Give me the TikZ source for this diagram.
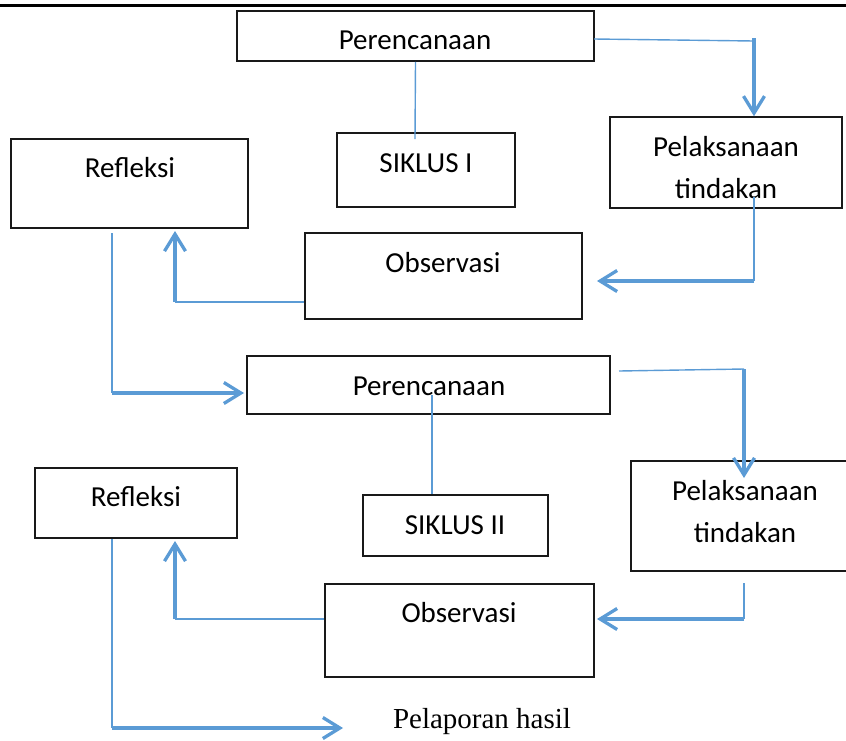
\documentclass[tikz,border=0pt]{standalone}
\usepackage{fontspec}
\setmainfont{Carlito}
\newfontfamily\timesfont{Liberation Serif}
\usetikzlibrary{arrows.meta}
\definecolor{oblue}{HTML}{5B9BD5}
\begin{document}
\begin{tikzpicture}[x=1pt,y=-1pt,
  box/.style={draw=black!90, line width=1.5pt, inner sep=0pt, fill=none},
  lbl/.style={inner sep=0pt, font=\fontsize{29}{42}\selectfont, align=center},
  thinline/.style={draw=oblue, line width=1.4pt},
  thickarrow/.style={draw=oblue, line width=3.3pt, -{Straight Barb[length=17pt,width=21pt]}}]
\useasboundingbox (0,0) rectangle (846,740);
\clip (0,0) rectangle (846,740);
% top rule
\coordinate (ruleL) at (0,5.5);
\coordinate (ruleR) at (846,5.5);
\draw[line width=3pt] (ruleL) -- (ruleR);
% ---------- cycle I ----------
\node[box, minimum width=357pt, minimum height=50pt] (per1) at (415.5,36) {};
\node[lbl] (per1t) at (415,40) {Perencanaan};
\node[box, minimum width=178pt, minimum height=74pt] (sik1) at (426,170) {};
\node[lbl] (sik1t) at (426,163) {SIKLUS I};
\node[box, minimum width=232pt, minimum height=91pt] (pel1) at (726,162.5) {};
\node[lbl] (pel1t) at (726,167.5) {Pelaksanaan\\tindakan};
\node[box, minimum width=237pt, minimum height=89pt] (ref1) at (129.5,183.5) {};
\node[lbl] (ref1t) at (130,168) {Refleksi};
\node[box, minimum width=277pt, minimum height=86pt] (obs1) at (443.5,276) {};
\node[lbl] (obs1t) at (443,263) {Observasi};
% ---------- cycle II ----------
\node[box, minimum width=363pt, minimum height=58pt] (per2) at (428.5,385) {};
\node[lbl] (per2t) at (429,386) {Perencanaan};
\node[box, minimum width=185pt, minimum height=61pt] (sik2) at (455.5,525.5) {};
\node[lbl] (sik2t) at (455,525) {SIKLUS II};
\node[box, minimum width=239pt, minimum height=110pt] (pel2) at (750.5,516) {};
\node[lbl] (pel2t) at (745,511.5) {Pelaksanaan\\tindakan};
\node[box, minimum width=202pt, minimum height=70pt] (ref2) at (136,503) {};
\node[lbl] (ref2t) at (136,497) {Refleksi};
\node[box, minimum width=269pt, minimum height=93pt] (obs2) at (459.5,630.5) {};
\node[lbl] (obs2t) at (459,613) {Observasi};
\node[inner sep=0pt, font=\timesfont\fontsize{29}{34}\selectfont] (lap) at (482,722) {Pelaporan hasil};
% ---------- connectors cycle I ----------
\coordinate (a1) at (415,139);
\draw[thinline] (per1.south) -- (a1);
\coordinate (b0) at (594,39);
\coordinate (b1) at (754,41);
\coordinate (b1t) at (754,38);
\draw[thinline] (b0) -- (b1);
\draw[thickarrow] (b1t) -- (b1t |- pel1.north);
\coordinate (c0) at (754,197);
\coordinate (c1) at (754,281);
\coordinate (c2) at (597,281);
\draw[thinline] (c0) -- (c1);
\draw[thickarrow] (c1) -- (c2);
\coordinate (d0) at (obs1.west |- 0,302);
\coordinate (d1) at (175,302);
\coordinate (d2) at (175,231);
\draw[thinline] (d0) -- (d1);
\draw[thickarrow] (d1) -- (d2);
\coordinate (e0) at (112,233);
\coordinate (e1) at (112,393);
\coordinate (e2) at (244,393);
\draw[thinline] (e0) -- (e1);
\draw[thickarrow] (e1) -- (e2);
% ---------- connectors cycle II ----------
\coordinate (f0) at (432,395);
\draw[thinline] (f0) -- (f0 |- sik2.north);
\coordinate (g0) at (619,371);
\coordinate (g1) at (744,369);
\coordinate (g2) at (744,478);
\draw[thinline] (g0) -- (g1);
\draw[thickarrow] (g1) -- (g2);
\coordinate (h0) at (744,583);
\coordinate (h1) at (744,619);
\coordinate (h2) at (597,619);
\draw[thinline] (h0) -- (h1);
\draw[thickarrow] (h1) -- (h2);
\coordinate (i0) at (obs2.west |- 0,619);
\coordinate (i1) at (175,619);
\coordinate (i2) at (175,541);
\draw[thinline] (i0) -- (i1);
\draw[thickarrow] (i1) -- (i2);
\coordinate (j0) at (ref2.south -| 112,0);
\coordinate (j1) at (112,728);
\coordinate (j2) at (343,728);
\draw[thinline] (j0) -- (j1);
\draw[thickarrow] (j1) -- (j2);
\end{tikzpicture}
\end{document}
